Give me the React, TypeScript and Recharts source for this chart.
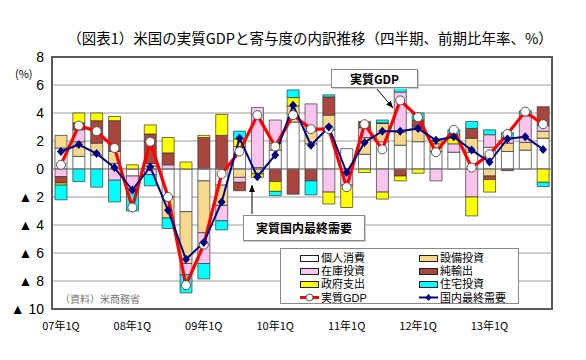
import React from 'react'
import { ComposedChart, Bar, Line, XAxis, YAxis, CartesianGrid, ReferenceLine, ReferenceArea } from 'recharts'

// 07年1Q〜13年4Q、前期比年率寄与度（％）
const quarters = [
  '07年1Q', '07年2Q', '07年3Q', '07年4Q',
  '08年1Q', '08年2Q', '08年3Q', '08年4Q',
  '09年1Q', '09年2Q', '09年3Q', '09年4Q',
  '10年1Q', '10年2Q', '10年3Q', '10年4Q',
  '11年1Q', '11年2Q', '11年3Q', '11年4Q',
  '12年1Q', '12年2Q', '12年3Q', '12年4Q',
  '13年1Q', '13年2Q', '13年3Q', '13年4Q',
]
const pce = [1.5, 0.9, 1.0, 0.4, -0.5, 0.2, -2.0, -3.05, -0.85, -1.15, 1.6, 0.1, 1.35, 3.35, 1.8, 2.8, 1.45, 1.05, 1.95, 1.7, 1.95, 1.25, 1.2, 1.2, 1.55, 1.25, 1.35, 2.2]
const bfi = [0.9, 1.05, 0.85, 0.85, 0, 0.2, -1.5, -3.7, -3.7, -1.45, -0.6, -0.35, 0.5, 1.15, 0.9, 1.05, 0, 1.2, 1.3, 0.95, 1.05, 0.55, 0, 1.0, -0.5, 0.6, 0.55, 0.5]
const inv = [-0.55, 0.85, 0, -0.8, -0.9, -0.4, 0.3, -0.8, -2.2, -1.1, -0.35, 4.3, 1.65, 0, 1.95, -1.65, -1.15, 0.7, -1.65, 2.85, 0, -0.85, 0.6, -2.0, 0.9, 0.35, 1.9, 0.4]
const nx = [-0.45, 0.5, 1.6, 2.2, 0, 2.1, 0.85, 0, 2.25, 2.4, -0.6, 0, -0.9, -1.8, -0.85, 1.3, 0, 0.45, 0.05, -0.5, 0.5, 0, 0, 0.7, -0.25, -0.12, 0, 1.35]
const gov = [-0.15, 0.7, 0.55, 0.3, 0.3, 0.65, 1.1, 0.5, 0.15, 1.5, 0.55, -0.25, -0.7, 0.6, 0, -0.85, -1.6, -0.25, -0.5, -0.35, -0.3, 0.2, 0.65, -1.35, -0.9, 0, 0, -0.95]
const res = [-1.05, -0.9, -1.3, -1.55, -1.6, -0.8, -0.75, -1.3, -1.1, -0.65, 0.55, 0, -0.3, 0.55, -1.0, 0.15, 0, 0, 0.2, 0.25, 0.5, 0, 0.35, 0.5, 0.35, 0.4, 0.35, -0.3]
const gdp = [0.3, 3.1, 2.7, 1.5, -2.75, 1.95, -2.0, -8.3, -5.4, -0.35, 1.25, 3.85, 1.6, 3.85, 2.85, 2.85, -1.3, 3.2, 1.4, 4.9, 3.7, 1.2, 2.8, 0.1, 1.05, 2.5, 4.1, 3.2]
const dfd = [1.25, 1.75, 1.1, 0.1, -1.5, 0.15, -2.95, -6.45, -5.25, -2.35, 2.2, -0.55, 1.0, 4.55, 1.7, 3.0, -0.25, 1.9, 2.7, 2.7, 2.9, 2.05, 2.3, 1.35, 0.5, 2.15, 2.3, 1.4]
const yTicks = [-10, -8, -6, -4, -2, 0, 2, 4, 6, 8]

const data = quarters.map((q, i) => ({
  q, pce: pce[i], bfi: bfi[i], inv: inv[i], nx: nx[i], gov: gov[i], res: res[i], gdp: gdp[i], dfd: dfd[i],
}))

const C = {
  pce: '#ffffff',
  bfi: '#f7d98e',
  inv: '#f9c4ee',
  nx: '#a8463f',
  gov: '#ffff00',
  res: '#00ffff',
  gdp: '#ff0000',
  dfd: '#000080',
}

const jp = "'Noto Sans CJK JP', sans-serif"
const num = "'Liberation Sans', 'DejaVu Sans', sans-serif"
// 凡例は行間が狭いので、行の高さが小さいラテン系フォントを先頭に置く
const legendFont = "'Liberation Sans', 'Noto Sans CJK JP', sans-serif"

const XTick = (props: any) => {
  const { x, y, payload } = props
  if (!String(payload.value).endsWith('1Q')) return <g />
  return (
    <text x={x} y={y} dy={13} textAnchor="middle" fontSize={11} fontFamily={jp} fill="#000">
      {payload.value}
    </text>
  )
}

const YTick = (props: any) => {
  const { x, y, payload } = props
  const v = payload.value
  return (
    <text x={x} y={y} dy={5} textAnchor="end" fontSize={14} fontFamily={num} fill="#000">
      {v < 0 ? `▲ ${-v}` : `${v}`}
    </text>
  )
}

const GdpDot = (props: any) => {
  const { cx, cy, index } = props
  return <circle key={`g${index}`} cx={cx} cy={cy} r={4.5} fill="#fff" stroke="#555" strokeWidth={1} />
}

const DfdDot = (props: any) => {
  const { cx, cy, index } = props
  return (
    <path key={`d${index}`} d={`M${cx},${cy - 4.5}L${cx + 4},${cy}L${cx},${cy + 4.5}L${cx - 4},${cy}Z`} fill={C.dfd} />
  )
}

const legendItems = [
  { name: '個人消費', kind: 'box', color: C.pce },
  { name: '設備投資', kind: 'box', color: C.bfi },
  { name: '在庫投資', kind: 'box', color: C.inv },
  { name: '純輸出', kind: 'box', color: C.nx },
  { name: '政府支出', kind: 'box', color: C.gov },
  { name: '住宅投資', kind: 'box', color: C.res },
  { name: '実質GDP', kind: 'gdp', color: C.gdp },
  { name: '国内最終需要', kind: 'dfd', color: C.dfd },
]

function Swatch({ kind, color }: { kind: string; color: string }) {
  if (kind === 'box')
    return <div style={{ width: 17, height: 5, background: color, border: '1px solid #222' }} />
  if (kind === 'gdp')
    return (
      <svg width={19} height={9}>
        <line x1={0} y1={4.5} x2={19} y2={4.5} stroke={color} strokeWidth={3} />
        <circle cx={9.5} cy={4.5} r={3.5} fill="#fff" stroke="#555" />
      </svg>
    )
  return (
    <svg width={19} height={9}>
      <line x1={0} y1={4.5} x2={19} y2={4.5} stroke={color} strokeWidth={2} />
      <path d="M9.5,1L12.5,4.5L9.5,8L6.5,4.5Z" fill={color} />
    </svg>
  )
}

export default function App() {
  return (
    <div style={{ position: 'absolute', left: 0, top: 0, width: 586, height: 360, background: '#fff' }}>
      <div style={{ position: 'absolute', left: 0, top: 27, width: 586, textAlign: 'center', fontFamily: jp, fontSize: 14.5, paddingLeft: 34, boxSizing: 'border-box', whiteSpace: 'nowrap' }}>
        （図表1）米国の実質GDPと寄与度の内訳推移（四半期、前期比年率、%）
      </div>
      <div style={{ position: 'absolute', left: 15, top: 65, fontFamily: jp, fontSize: 11 }}>(%)</div>

      <ComposedChart width={586} height={360} data={data} stackOffset="sign" barSize={12}
        margin={{ top: 57, right: 34, bottom: 0, left: 0 }}>
        <CartesianGrid vertical={false} stroke="#9a9a9a" />
        <XAxis dataKey="q" height={51} interval={0} tick={<XTick />} tickLine={false} axisLine={false} />
        <YAxis type="number" domain={[-10, 8]} ticks={yTicks} width={52} tick={<YTick />} tickLine={false} axisLine={false} />
        <ReferenceLine y={0} stroke="#808080" />
        <Bar dataKey="pce" stackId="s" fill={C.pce} stroke="#333" strokeWidth={0.7} isAnimationActive={false} />
        <Bar dataKey="bfi" stackId="s" fill={C.bfi} stroke="#333" strokeWidth={0.7} isAnimationActive={false} />
        <Bar dataKey="inv" stackId="s" fill={C.inv} stroke="#333" strokeWidth={0.7} isAnimationActive={false} />
        <Bar dataKey="nx" stackId="s" fill={C.nx} stroke="#333" strokeWidth={0.7} isAnimationActive={false} />
        <Bar dataKey="gov" stackId="s" fill={C.gov} stroke="#333" strokeWidth={0.7} isAnimationActive={false} />
        <Bar dataKey="res" stackId="s" fill={C.res} stroke="#333" strokeWidth={0.7} isAnimationActive={false} />
        <Line dataKey="gdp" stroke={C.gdp} strokeWidth={3.2} dot={GdpDot} isAnimationActive={false} />
        <Line dataKey="dfd" stroke={C.dfd} strokeWidth={2} dot={DfdDot} isAnimationActive={false} />
        <ReferenceArea y1={-10} y2={8} fill="none" stroke="#5a5a5a" strokeWidth={2} ifOverflow="visible" />
      </ComposedChart>

      <div style={{ position: 'absolute', left: 60, top: 291, fontFamily: jp, fontSize: 10, color: '#777' }}>（資料）米商務省</div>

      <svg width={586} height={360} style={{ position: 'absolute', left: 0, top: 0, pointerEvents: 'none' }}>
        <defs>
          <marker id="ah" markerWidth="8" markerHeight="8" refX="7" refY="4" orient="auto">
            <path d="M0,1L7,4L0,7Z" fill="#000" />
          </marker>
        </defs>
        <line x1={377} y1={89} x2={393} y2={108} stroke="#000" strokeWidth={1} markerEnd="url(#ah)" />
        <line x1={252} y1={214} x2={252} y2={185} stroke="#000" strokeWidth={1} markerEnd="url(#ah)" />
      </svg>

      <div style={{ position: 'absolute', left: 331, top: 69, width: 87, height: 19, border: '1px solid #888', background: '#fff', boxShadow: '1px 1px 0 #ccc', boxSizing: 'border-box', fontFamily: jp, fontSize: 12, fontWeight: 'bold', textAlign: 'center', lineHeight: '17px' }}>
        実質GDP
      </div>
      <div style={{ position: 'absolute', left: 243, top: 215, width: 122, height: 26, border: '1px solid #888', background: '#fff', boxShadow: '1px 1px 0 #ccc', boxSizing: 'border-box', fontFamily: jp, fontSize: 12, fontWeight: 'bold', textAlign: 'center', lineHeight: '24px' }}>
        実質国内最終需要
      </div>

      <div style={{ position: 'absolute', left: 280, top: 248, width: 239, height: 56, border: '1px solid #888', background: '#fff', boxSizing: 'border-box' }}>
        {legendItems.map((it, i) => (
          <div key={it.name} style={{ position: 'absolute', left: i % 2 === 0 ? 19 : 138, top: 3 + Math.floor(i / 2) * 13.2, height: 12, display: 'flex', alignItems: 'center', gap: 2, fontFamily: legendFont, fontSize: 11, lineHeight: '12px', whiteSpace: 'nowrap' }}>
            <Swatch kind={it.kind} color={it.color} />
            <span>{it.name}</span>
          </div>
        ))}
      </div>
    </div>
  )
}
